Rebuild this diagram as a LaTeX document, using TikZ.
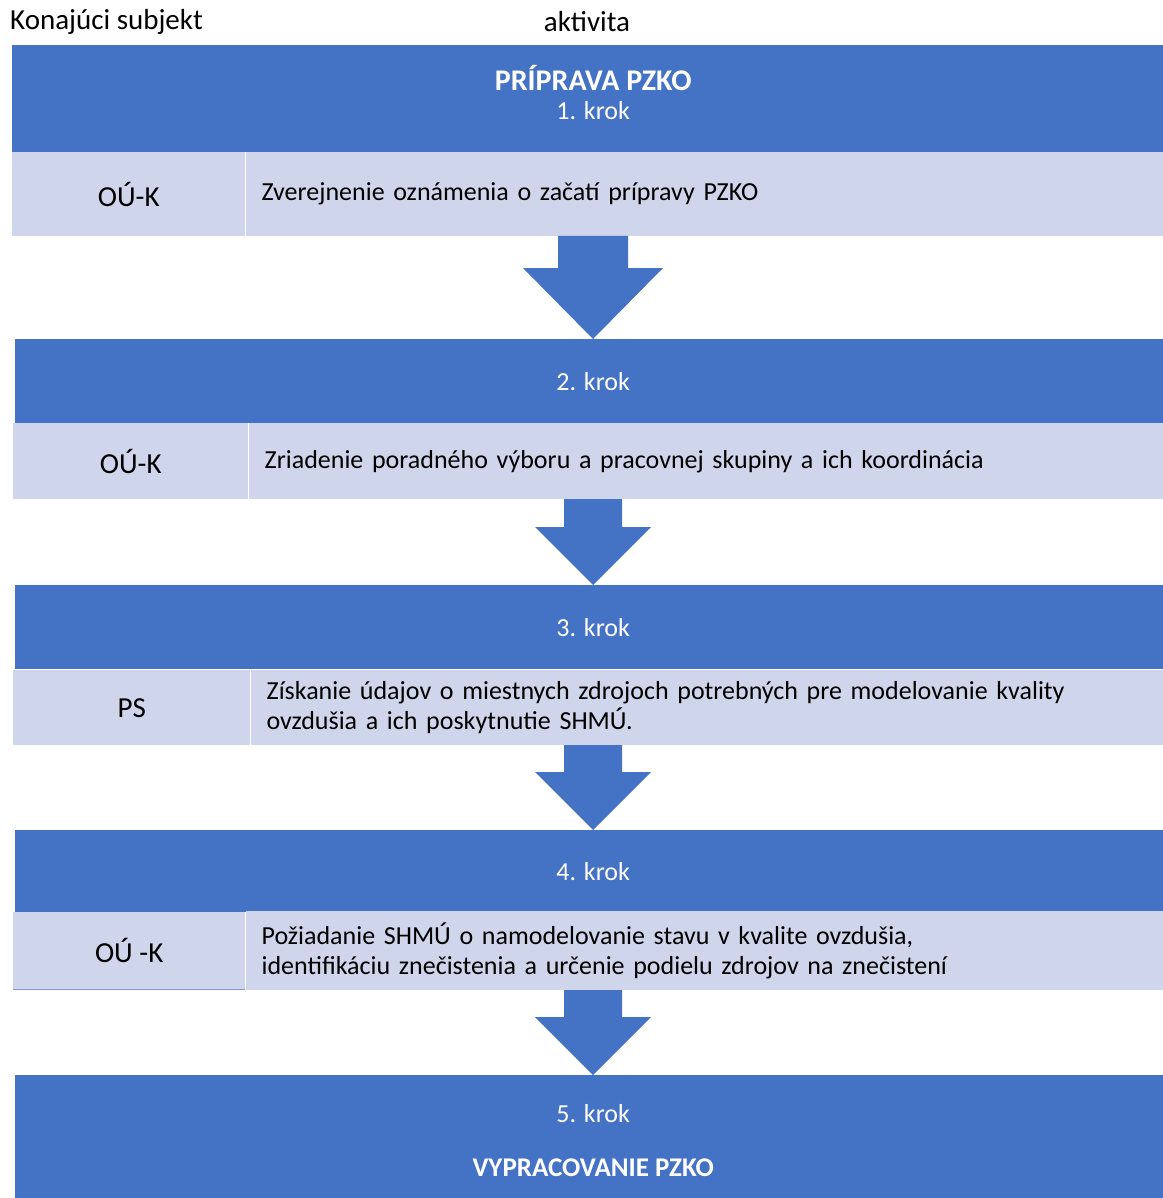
\documentclass[tikz,border=0pt]{standalone}
\usepackage{fontspec}
\setmainfont{Carlito}
\usetikzlibrary{positioning}
\definecolor{stepblue}{HTML}{4472C4}
\definecolor{celllight}{HTML}{CFD5EA}

\begin{document}
\begin{tikzpicture}[x=1pt, y=-1pt,
  step head/.style={rectangle, fill=stepblue, text=white, align=center, inner sep=0pt, anchor=north west},
  head text/.style={text=white, align=center},
  who cell/.style={rectangle, fill=celllight, inner sep=0pt, minimum width=233pt, anchor=north west, font=\fontsize{29}{33}\selectfont},
  what cell/.style={rectangle, fill=celllight, inner xsep=16pt, inner ysep=0pt, text width=885pt, align=left},
  top label/.style={inner sep=0pt, font=\fontsize{29}{33}\selectfont},
  block arrow/.style={fill=stepblue}]
  \tikzstyle{every node}=[font=\fontsize{26}{29.5}\selectfont]
  \useasboundingbox (0,0) rectangle (1162,1198);

  \node[top label, anchor=west] (subj) at (10,22) {Konajúci subjekt};
  \node[top label] (act) at (587,22) {aktivita};

  % krok 1
  \node[step head, minimum width=1162pt, minimum height=107pt,
    label={[head text, yshift=6pt]center:{{\fontsize{30}{30}\selectfont\bfseries PRÍPRAVA PZKO}\\1. krok}}] (h1) at (12,45) {};
  \node[who cell, minimum height=84pt] (w1) at (12,152) {OÚ-K};
  \node[what cell, minimum height=84pt] (a1) [right=0pt of w1] {Zverejnenie oznámenia o začatí prípravy PZKO};

  % krok 2
  \node[step head, minimum width=1156pt, minimum height=84pt] (h2) at (15,339) {2. krok};
  \node[who cell, minimum width=235pt, minimum height=76pt] (w2) at (13,423) {OÚ-K};
  \node[what cell, minimum height=76pt] (a2) [right=0pt of w2] {Zriadenie poradného výboru a pracovnej skupiny a ich koordinácia};

  % krok 3
  \node[step head, minimum width=1156pt, minimum height=84pt] (h3) at (15,585) {3. krok};
  \node[who cell, minimum width=237pt, minimum height=75pt] (w3) at (13,670) {PS};
  \node[what cell, minimum height=75pt] (a3) [right=0pt of w3] {Získanie údajov o miestnych zdrojoch potrebných pre modelovanie kvality\\ovzdušia a ich poskytnutie SHMÚ.};

  % krok 4
  \node[step head, minimum width=1156pt, minimum height=82pt] (h4) at (15,830) {4. krok};
  \node[who cell, minimum width=232pt, minimum height=77pt] (w4) at (13,912) {OÚ -K};
  \node[what cell, minimum height=79pt] (a4) [right=0pt of w4] {Požiadanie SHMÚ o namodelovanie stavu v kvalite ovzdušia,\\identifikáciu znečistenia a určenie podielu zdrojov na znečistení};
  \draw[stepblue!70, line width=1pt] (w4.south west) -- (w4.south east);

  % krok 5
  \node[step head, minimum width=1156pt, minimum height=123pt,
    label={[head text, yshift=-4pt]center:{5. krok\\[25pt]{\fontsize{27}{27}\selectfont\bfseries VYPRACOVANIE PZKO}}}] (h5) at (15,1075) {};

  % sipky
  \coordinate (mid) at (593,0);
  \fill[block arrow] (mid |- h2.north) -- ++(-70,-71) -- ++(35,0) -- ++(0,-32) -- ++(70,0) -- ++(0,32) -- ++(35,0) -- cycle;
  \fill[block arrow] (mid |- h3.north) -- ++(-58,-58) -- ++(29,0) -- ++(0,-28) -- ++(58,0) -- ++(0,28) -- ++(29,0) -- cycle;
  \fill[block arrow] (mid |- h4.north) -- ++(-58,-58) -- ++(29,0) -- ++(0,-27) -- ++(58,0) -- ++(0,27) -- ++(29,0) -- cycle;
  \fill[block arrow] (mid |- h5.north) -- ++(-58,-58) -- ++(29,0) -- ++(0,-27) -- ++(58,0) -- ++(0,27) -- ++(29,0) -- cycle;
\end{tikzpicture}
\end{document}
